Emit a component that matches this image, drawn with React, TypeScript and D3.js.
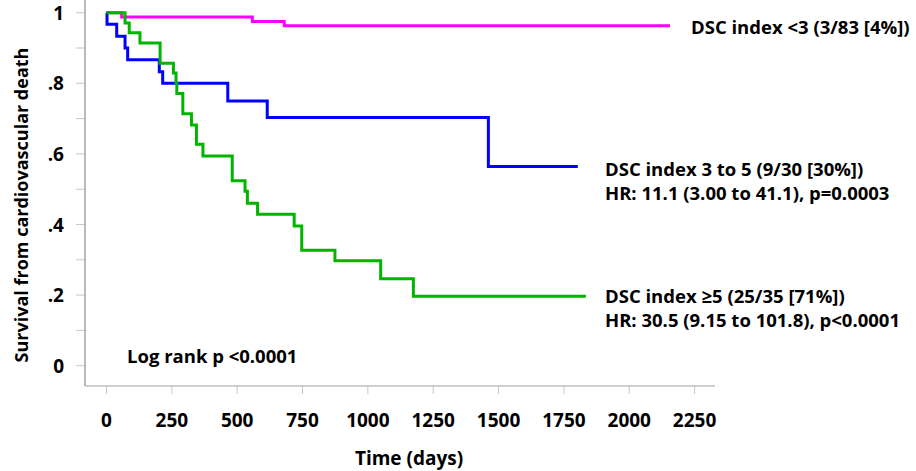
import React from "react";
import * as d3 from "d3";

// Kaplan-Meier step data (days, survival)
const lowDays = [0, 58, 558, 680, 2156];
const lowSurv = [1, 0.988, 0.975, 0.963, 0.963];

const midDays = [0, 2, 39, 71, 81, 202, 215, 464, 615, 1461, 1803];
const midSurv = [1, 0.967, 0.933, 0.9, 0.867, 0.833, 0.8, 0.75, 0.703, 0.564, 0.564];

const highDays = [
  0, 71, 87, 128, 205, 256, 266, 269, 292, 325, 344, 369, 481, 530, 539, 578,
  718, 747, 874, 1049, 1174, 1834,
];
const highSurv = [
  1, 0.971, 0.943, 0.914, 0.857, 0.829, 0.8, 0.771, 0.714, 0.682, 0.627, 0.594,
  0.524, 0.494, 0.46, 0.429, 0.396, 0.327, 0.297, 0.246, 0.197, 0.197,
];

const xTicks = [0, 250, 500, 750, 1000, 1250, 1500, 1750, 2000, 2250];
const yMajor = [0, 0.2, 0.4, 0.6, 0.8, 1];
const yMinor = [0, 0.1, 0.2, 0.3, 0.4, 0.5, 0.6, 0.7, 0.8, 0.9, 1];
const yLabels = ["0", ".2", ".4", ".6", ".8", "1"];

const seriesNames = ["DSC index <3", "DSC index 3 to 5", "DSC index ≥5"];
const legendLines = [
  ["DSC index <3 (3/83 [4%])"],
  ["DSC index 3 to 5 (9/30 [30%])", "HR: 11.1 (3.00 to 41.1), p=0.0003"],
  ["DSC index ≥5 (25/35 [71%])", "HR: 30.5 (9.15 to 101.8), p<0.0001"],
];

const W = 916;
const H = 471;
const FONT = "'Open Sans', sans-serif";

export default function App() {
  const x = d3.scaleLinear().domain([0, 2250]).range([106.5, 694.6]);
  const y = d3.scaleLinear().domain([0, 1]).range([365.7, 12.7]);

  const line = d3
    .line<[number, number]>()
    .x((d) => x(d[0]))
    .y((d) => y(d[1]))
    .curve(d3.curveStepAfter);

  const series = [
    { name: seriesNames[0], days: lowDays, surv: lowSurv, color: "#ff00ff" },
    { name: seriesNames[1], days: midDays, surv: midSurv, color: "#0000ff" },
    { name: seriesNames[2], days: highDays, surv: highSurv, color: "#00b400" },
  ];

  const axisX = 85;
  const axisY = 386;

  // legend anchors: x, y of first line centre
  const legendPos = [
    { x: 691, y: 26.7 },
    { x: 605, y: 168 },
    { x: 605, y: 295 },
  ];

  return (
    <svg
      width={W}
      height={H}
      style={{ position: "absolute", left: 0, top: 0, background: "#fff" }}
      fontFamily={FONT}
      fontWeight="bold"
    >
      {/* y ticks */}
      {yMinor.map((v) => (
        <line key={"ym" + v} x1={76} x2={axisX} y1={y(v)} y2={y(v)} stroke="#c8c8c8" strokeWidth={1} />
      ))}
      {yMajor.map((v, i) => (
        <text
          key={"yl" + v}
          x={64}
          y={y(v)}
          textAnchor="end"
          dominantBaseline="central"
          fontSize={19}
          fill="#000"
        >
          {yLabels[i]}
        </text>
      ))}
      {/* x ticks */}
      {xTicks.map((t) => (
        <g key={"xt" + t}>
          <line x1={x(t)} x2={x(t)} y1={axisY} y2={394} stroke="#c8c8c8" strokeWidth={1} />
          <text x={x(t)} y={420} textAnchor="middle" dominantBaseline="central" fontSize={19} fill="#000">
            {t}
          </text>
        </g>
      ))}
      {/* axes */}
      <line x1={axisX} x2={axisX} y1={0} y2={axisY} stroke="#8c8c8c" strokeWidth={1.2} />
      <line x1={axisX} x2={715} y1={axisY} y2={axisY} stroke="#a0a0a0" strokeWidth={1.2} />

      {/* curves */}
      {series.map((s) => (
        <path
          key={s.name}
          d={line(s.days.map((d, i) => [d, s.surv[i]] as [number, number])) || ""}
          fill="none"
          stroke={s.color}
          strokeWidth={3}
        />
      ))}

      {/* legend text */}
      {legendLines.map((lines, i) => (
        <text key={"lg" + i} fontSize={18.5} fill="#000">
          {lines.map((l, j) => (
            <tspan key={j} x={legendPos[i].x} y={legendPos[i].y + j * 24.7} dominantBaseline="central">
              {l}
            </tspan>
          ))}
        </text>
      ))}

      <text x={127} y={355.5} dominantBaseline="central" fontSize={18.5} fill="#000">
        Log rank p {"<"}0.0001
      </text>

      {/* axis titles */}
      <text
        transform={`translate(21,205) rotate(-90)`}
        textAnchor="middle"
        dominantBaseline="central"
        fontSize={18}
        fill="#000"
      >
        Survival from cardiovascular death
      </text>
      <text x={409} y={465} textAnchor="middle" fontSize={19} fill="#000">
        Time (days)
      </text>
    </svg>
  );
}
